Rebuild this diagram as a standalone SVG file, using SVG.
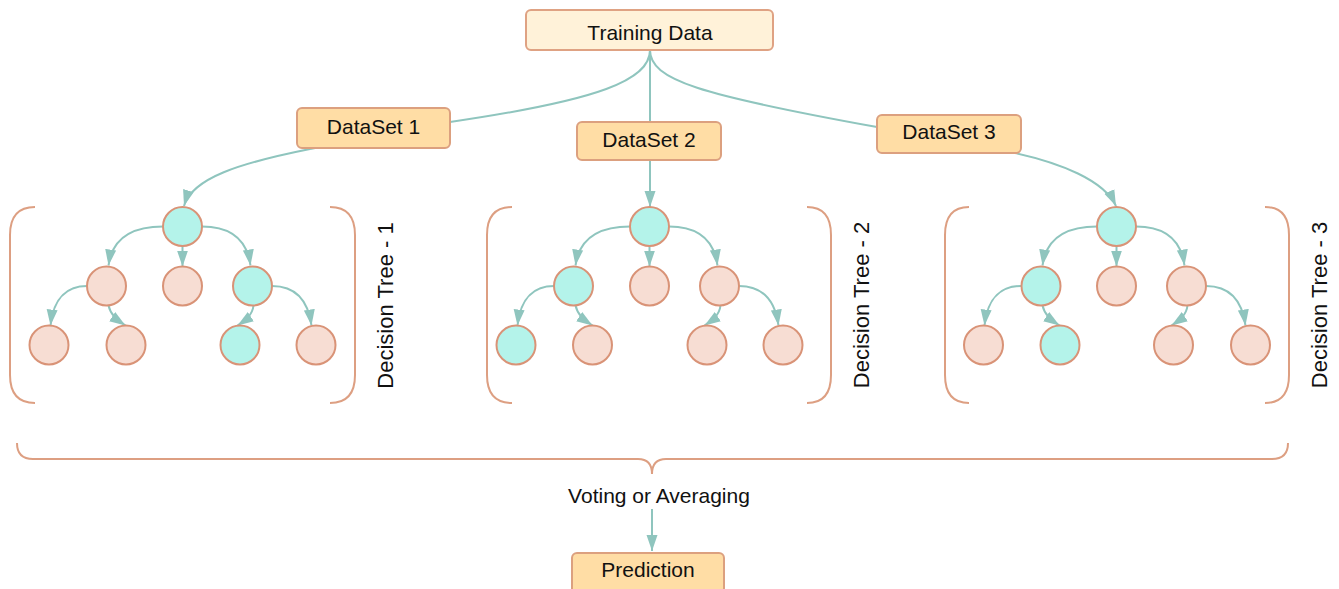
<svg xmlns="http://www.w3.org/2000/svg" width="1339" height="589" viewBox="0 0 1339 589">
<defs>
<style>
.box1{fill:#fff2d9;stroke:#dfa283;stroke-width:2}
.box2{fill:#ffdda5;stroke:#dca07f;stroke-width:2}
.t{font-family:"Liberation Sans",Arial,sans-serif;font-size:21px;fill:#111;text-anchor:middle}
.tv{font-family:"Liberation Sans",Arial,sans-serif;font-size:22px;fill:#111;text-anchor:middle}
.e{fill:none;stroke:#8fc5be;stroke-width:2}
.ea{fill:none;stroke:#8fc5be;stroke-width:2;marker-end:url(#arr)}
.br{fill:none;stroke:#dd9f82;stroke-width:2}
.nt{fill:#b4f3ea;stroke:#d99377;stroke-width:2}
.np{fill:#f7ddd3;stroke:#d99377;stroke-width:2}
</style>
<marker id="arr" markerUnits="userSpaceOnUse" markerWidth="16" markerHeight="12" refX="16" refY="6" orient="auto" viewBox="0 0 16 12">
<path d="M0,0.5 L16,6 L0,11.5 z" fill="#8fc5be"/>
</marker>
<g id="tree">
<path class="ea" d="M-19.5,0 C-48,0 -70,10 -74,39"/>
<path class="ea" d="M0,19.5 L0,40"/>
<path class="ea" d="M19.5,0 C44,0 64,10 68,39"/>
<path class="ea" d="M-95.5,59.5 C-114,59.5 -129,70 -132,99"/>
<path class="ea" d="M-74,79 C-72,88 -66,93 -57,99"/>
<path class="ea" d="M71,79 C70,88 64,93 55,99"/>
<path class="ea" d="M89.5,59.5 C110,59.5 125,70 129,99"/>
</g>
</defs>

<g id="connectors">
<path class="e" d="M650,50 C650,80 600,100 450,122 L310,149"/>
<path class="ea" d="M310,149 C240,163 192,178 184,206"/>
<path class="ea" d="M650,50 L650,207"/>
<path class="e" d="M650,50 C650,80 700,95 877,127 L1015,153"/>
<path class="ea" d="M1015,153 C1060,163 1104,180 1116,206"/>
<path class="ea" d="M652,509 L652,551"/>
<use href="#tree" x="182.5" y="226.5"/>
<use href="#tree" x="649.5" y="226.5"/>
<use href="#tree" x="1116.5" y="226.5"/>
</g>

<g id="training-data">
<rect class="box1" x="526" y="10" width="247" height="40" rx="5"/>
<text class="t" x="650" y="40">Training Data</text>
</g>
<g id="dataset-1">
<rect class="box2" x="297" y="108" width="153" height="40" rx="5"/>
<text class="t" x="373.5" y="134">DataSet 1</text>
</g>
<g id="dataset-2">
<rect class="box2" x="577" y="122" width="144" height="38" rx="5"/>
<text class="t" x="649" y="147">DataSet 2</text>
</g>
<g id="dataset-3">
<rect class="box2" x="877" y="115" width="144" height="38" rx="5"/>
<text class="t" x="949" y="139">DataSet 3</text>
</g>

<g id="tree-1">
<path class="br" d="M35,207 Q10,207 10,235 L10,375 Q10,403 35,403"/>
<path class="br" d="M330,207 Q355,207 355,235 L355,375 Q355,403 330,403"/>
<circle class="nt" cx="182.5" cy="226.5" r="19.5"/>
<circle class="np" cx="106.5" cy="286" r="19.5"/>
<circle class="np" cx="182.5" cy="286" r="19.5"/>
<circle class="nt" cx="252.5" cy="286" r="19.5"/>
<circle class="np" cx="49" cy="345" r="19.5"/>
<circle class="np" cx="126" cy="345" r="19.5"/>
<circle class="nt" cx="240" cy="345" r="19.5"/>
<circle class="np" cx="316" cy="345" r="19.5"/>
<text class="tv" transform="translate(393,305.5) rotate(-90)">Decision Tree - 1</text>
</g>

<g id="tree-2">
<path class="br" d="M512,207 Q487,207 487,235 L487,375 Q487,403 512,403"/>
<path class="br" d="M807,207 Q831,207 831,235 L831,375 Q831,403 807,403"/>
<circle class="nt" cx="649.5" cy="226.5" r="19.5"/>
<circle class="nt" cx="573.5" cy="286" r="19.5"/>
<circle class="np" cx="649.5" cy="286" r="19.5"/>
<circle class="np" cx="719.5" cy="286" r="19.5"/>
<circle class="nt" cx="516" cy="345" r="19.5"/>
<circle class="np" cx="592.5" cy="345" r="19.5"/>
<circle class="np" cx="707" cy="345" r="19.5"/>
<circle class="np" cx="783" cy="345" r="19.5"/>
<text class="tv" transform="translate(869,305) rotate(-90)">Decision Tree - 2</text>
</g>

<g id="tree-3">
<path class="br" d="M969,207 Q945,207 945,235 L945,375 Q945,403 969,403"/>
<path class="br" d="M1265,207 Q1289,207 1289,235 L1289,375 Q1289,403 1265,403"/>
<circle class="nt" cx="1116.5" cy="226.5" r="19.5"/>
<circle class="nt" cx="1041" cy="286" r="19.5"/>
<circle class="np" cx="1116.5" cy="286" r="19.5"/>
<circle class="np" cx="1186.5" cy="286" r="19.5"/>
<circle class="np" cx="983.5" cy="345" r="19.5"/>
<circle class="nt" cx="1060" cy="345" r="19.5"/>
<circle class="np" cx="1173.5" cy="345" r="19.5"/>
<circle class="np" cx="1250.5" cy="345" r="19.5"/>
<text class="tv" transform="translate(1327,305) rotate(-90)">Decision Tree - 3</text>
</g>

<g id="brace">
<path class="br" d="M17,443 Q17,459 33,459 L638,459 Q652,459 652,474 Q652,459 666,459 L1272,459 Q1288,459 1288,443"/>
</g>
<g id="voting">
<text class="t" x="659" y="503">Voting or Averaging</text>
</g>
<g id="prediction">
<rect class="box2" x="572" y="553" width="152" height="40" rx="5"/>
<text class="t" x="648" y="577">Prediction</text>
</g>
</svg>
